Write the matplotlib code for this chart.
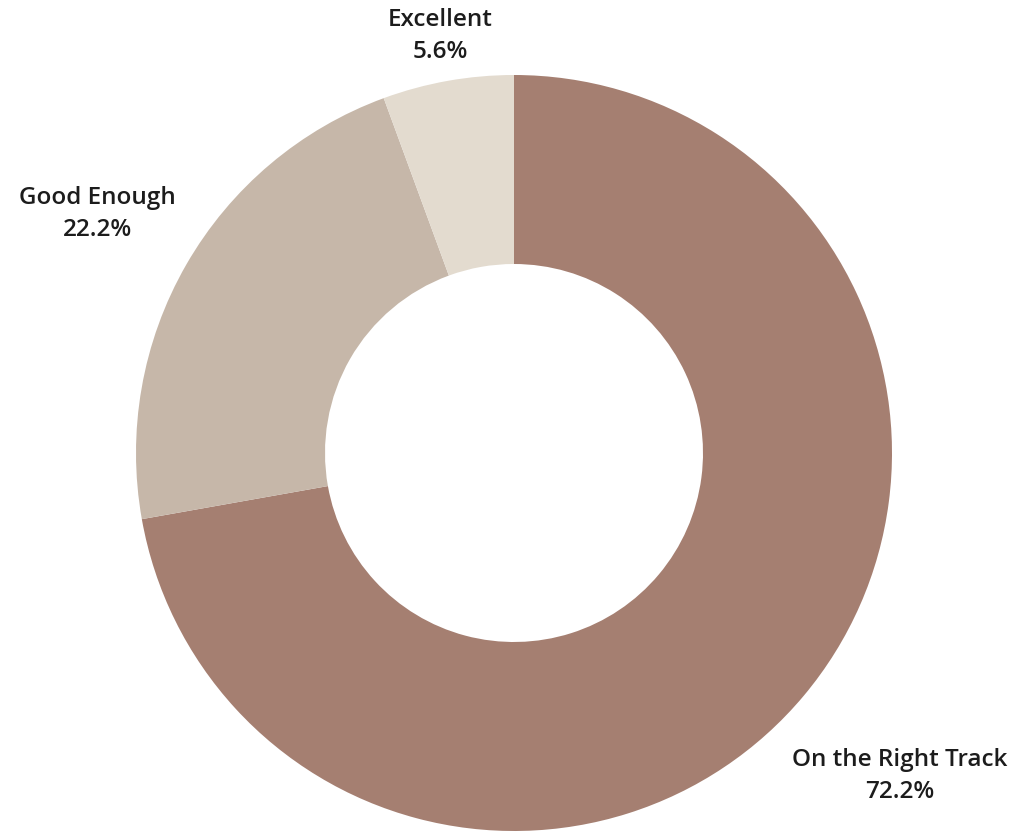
import numpy as np
import matplotlib
matplotlib.use('Agg')
import matplotlib.pyplot as plt

labels = ['On the Right Track', 'Good Enough', 'Excellent']
shares = [72.2, 22.2, 5.6]
colors = ['#a57f71', '#c6b7a9', '#e3dbcf']

plt.rcParams['font.family'] = ['Open Sans', 'DejaVu Sans']

fig = plt.figure(figsize=(10.26, 8.34), dpi=100)
ax = fig.add_axes([0, 0, 1, 1])

cx, cy, r = 514, 834 - 453, 378
wedges, _ = ax.pie(shares, colors=colors, startangle=90, counterclock=False,
                   radius=r, center=(cx, cy), frame=True,
                   wedgeprops=dict(width=r / 2, linewidth=0))
ax.set_xlim(0, 1026)
ax.set_ylim(0, 834)
ax.set_aspect('equal')
ax.axis('off')

# labels sit outside the ring along each slice's middle angle
label_dist = [1.33, 1.27, 1.12]
for w, name, pct, d in zip(wedges, labels, shares, label_dist):
    mid = np.deg2rad((w.theta1 + w.theta2) / 2)
    x = cx + d * r * np.cos(mid)
    y = cy + d * r * np.sin(mid)
    ax.text(x, y, f'{name}\n{pct:.1f}%', ha='center', va='center',
            fontsize=17.5, fontweight='semibold', color='#1c1c1c', linespacing=1.45)

fig.savefig('out.png', dpi=100)
